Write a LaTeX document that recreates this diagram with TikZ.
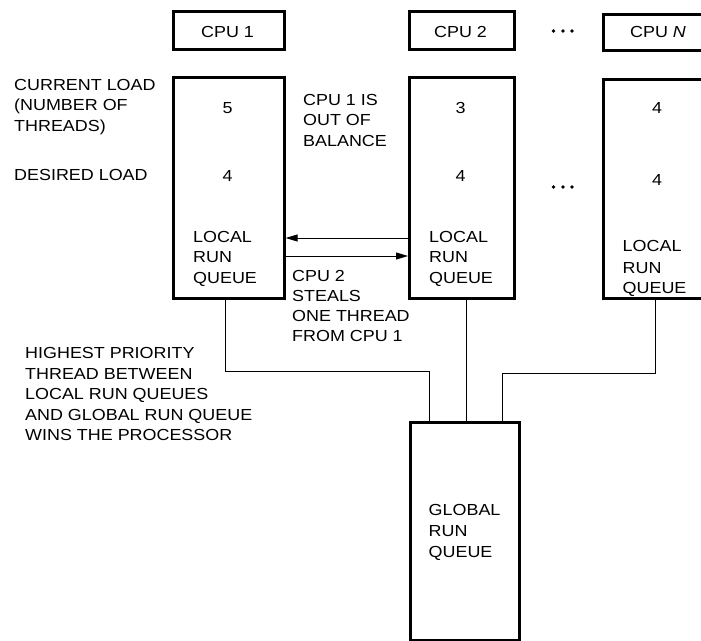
\documentclass[tikz,border=0pt]{standalone}
\usepackage{fontspec}
\setmainfont[FakeStretch=1.12]{Liberation Sans}
\usetikzlibrary{arrows.meta}
\begin{document}
\begin{tikzpicture}[x=1pt,y=-1pt,
  box/.style={draw, line width=2.6, inner sep=0, anchor=north west},
  conn/.style={line width=0.9},
  arr/.style={conn, -{Triangle[length=12,width=7]}},
  lbl/.style={anchor=base west, inner sep=0, font=\fontsize{16}{20}\selectfont},
  num/.style={anchor=base, inner sep=0, font=\fontsize{16}{20}\selectfont},
  dot/.style={fill, circle, inner sep=0, minimum size=3.6}]
\useasboundingbox (0,0) rectangle (701,640);
% top CPU boxes
\node[box, minimum width=111, minimum height=38] (c1) at (172,10) {};
\node[box, minimum width=105, minimum height=38] (c2) at (408,10) {};
\node[box, minimum width=111, minimum height=36] (cN) at (602,13) {};
\node[num] (t1) at (227.5,37) {CPU 1};
\node[num] (t2) at (460.5,37) {CPU 2};
\node[num] (tN) at (658,37.5) {CPU \textit{N}};
% big boxes
\node[box, minimum width=111, minimum height=221] (b1) at (172,76) {};
\node[box, minimum width=105, minimum height=221] (b2) at (408,76) {};
\node[box, minimum width=111, minimum height=219] (bN) at (602,78) {};
\node[box, minimum width=109, minimum height=218] (g) at (409,421) {};
% dots
\node[dot] (d1) at (553.5,31) {}; \node[dot] (d2) at (563,31) {}; \node[dot] (d3) at (572,31) {};
\node[dot] (e1) at (553.5,187) {}; \node[dot] (e2) at (563,187) {}; \node[dot] (e3) at (572,187) {};
% numbers
\node[num] (n11) at (227.5,113) {5};
\node[num] (n12) at (227.5,181) {4};
\node[num] (n21) at (460.5,113) {3};
\node[num] (n22) at (460.5,181) {4};
\node[num] (nN1) at (657,113) {4};
\node[num] (nN2) at (657,185) {4};
% local run queue labels
\node[lbl] (q1a) at (193,242) {LOCAL};
\node[lbl] (q1b) at (193,262.7) {RUN};
\node[lbl] (q1c) at (193,283.3) {QUEUE};
\node[lbl] (q2a) at (429,242) {LOCAL};
\node[lbl] (q2b) at (429,262.7) {RUN};
\node[lbl] (q2c) at (429,283.3) {QUEUE};
\node[lbl] (qNa) at (622.5,251.7) {LOCAL};
\node[lbl] (qNb) at (622.5,273) {RUN};
\node[lbl] (qNc) at (622.5,293) {QUEUE};
\node[lbl] (ga) at (428.5,515) {GLOBAL};
\node[lbl] (gb) at (428.5,536.5) {RUN};
\node[lbl] (gc) at (428.5,557) {QUEUE};
% left labels
\node[lbl] (la) at (14,90) {CURRENT LOAD};
\node[lbl] (lb) at (14,110.5) {(NUMBER OF};
\node[lbl] (lc) at (14,131.5) {THREADS)};
\node[lbl] (ld) at (14,180) {DESIRED LOAD};
\node[lbl] (ha) at (25,358.5) {HIGHEST PRIORITY};
\node[lbl] (hb) at (25,379) {THREAD BETWEEN};
\node[lbl] (hc) at (25,399.5) {LOCAL RUN QUEUES};
\node[lbl] (hd) at (25,420) {AND GLOBAL RUN QUEUE};
\node[lbl] (he) at (25,440.5) {WINS THE PROCESSOR};
% middle labels
\node[lbl] (oa) at (303,105) {CPU 1 IS};
\node[lbl] (ob) at (303,125.5) {OUT OF};
\node[lbl] (oc) at (303,146) {BALANCE};
\node[lbl] (sa) at (292,281) {CPU 2};
\node[lbl] (sb) at (292,301) {STEALS};
\node[lbl] (sc) at (292,321) {ONE THREAD};
\node[lbl] (sd) at (292,341) {FROM CPU 1};
% arrows
\draw[arr] (b2.west |- 0,238) -- (b1.east |- 0,238);
\draw[arr] (b1.east |- 0,256) -- (b2.west |- 0,256);
% connectors to global queue
\draw[conn] (b1.south -| 225,0) |- (429,371) -- (g.north -| 429,0);
\draw[conn] (b2.south -| 466,0) -- (g.north -| 466,0);
\draw[conn] (bN.south -| 655,0) |- (502,373) -- (g.north -| 502,0);
\end{tikzpicture}
\end{document}
